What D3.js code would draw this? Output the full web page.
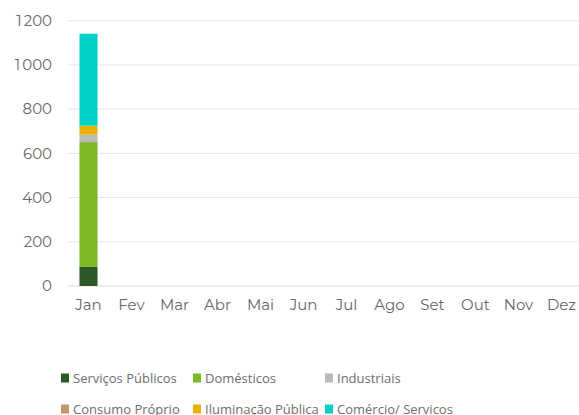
<!DOCTYPE html>
<html><head><meta charset="utf-8">
<script src="https://cdn.jsdelivr.net/npm/d3@7"></script>
<style>body{margin:0;background:#fff;} svg{display:block;}</style>
</head><body>
<svg id="c" width="579" height="415"></svg>
<script>
const months = ["Jan","Fev","Mar","Abr","Mai","Jun","Jul","Ago","Set","Out","Nov","Dez"];
const seriesNames = ["Serviços Públicos","Domésticos","Industriais","Consumo Próprio","Iluminação Pública","Comércio/ Servicos"];
const seriesColors = ["#2c5726","#7db827","#bababa","#c4976c","#e9b100","#00d3c6"];
const servicosPublicos = [86,null,null,null,null,null,null,null,null,null,null,null];
const domesticos       = [565,null,null,null,null,null,null,null,null,null,null,null];
const industriais      = [33,null,null,null,null,null,null,null,null,null,null,null];
const consumoProprio   = [1,null,null,null,null,null,null,null,null,null,null,null];
const iluminacao       = [40,null,null,null,null,null,null,null,null,null,null,null];
const comercio         = [416,null,null,null,null,null,null,null,null,null,null,null];
const yTicks = [0,200,400,600,800,1000,1200];
const yTickLabels = ["0","200","400","600","800","1 000","1 200"];

const seriesValues = [servicosPublicos,domesticos,industriais,consumoProprio,iluminacao,comercio];
const table = months.map((m,i)=>{const o={month:m}; seriesNames.forEach((s,j)=>o[s]=seriesValues[j][i]||0); return o;});
const stack = d3.stack().keys(seriesNames)(table);

const svg = d3.select("#c");
const font = "Montserrat, Lato, 'Open Sans', sans-serif";
const lfont = "'Open Sans', 'Noto Sans', sans-serif";
const x = d3.scaleBand().domain(months).range([67,583]).paddingInner(0.58).paddingOuter(0.29);
const y = d3.scaleLinear().domain([0,1200]).range([286,20.7]);

// grid
svg.append("g").selectAll("line").data(yTicks).join("line")
  .attr("x1",68).attr("x2",579).attr("y1",d=>y(d)).attr("y2",d=>y(d))
  .attr("stroke",d=>d===0?"#d9d9d9":"#e6e6e6").attr("stroke-width",1);

// y labels (thousands separated by a narrow gap)
const yl = svg.append("g").selectAll("text").data(yTicks).join("text")
  .attr("x",52).attr("y",d=>y(d)).attr("dy","0.35em").attr("text-anchor","end")
  .attr("font-family",font).attr("font-size",15).attr("fill","#666");
yl.each(function(d,i){
  const parts = yTickLabels[i].split(" ");
  const t = d3.select(this);
  parts.forEach((p,k)=>{ t.append("tspan").attr("dx",k>0?2:null).text(p); });
});

// bars
svg.append("g").selectAll("g").data(stack).join("g").attr("fill",(d,i)=>seriesColors[i])
  .selectAll("rect").data(d=>d).join("rect")
  .attr("x",d=>x(d.data.month)).attr("width",x.bandwidth())
  .attr("y",d=>y(d[1])).attr("height",d=>Math.max(0,y(d[0])-y(d[1])));

// x labels
svg.append("g").selectAll("text").data(months).join("text")
  .attr("x",d=>x(d)+x.bandwidth()/2).attr("y",305).attr("dy","0.35em").attr("text-anchor","middle")
  .attr("font-family",font).attr("font-size",15).attr("fill","#666").text(d=>d);

// legend
const cols=[61,193,325], rows=[378,409];
const lg = svg.append("g").selectAll("g").data(seriesNames).join("g")
  .attr("transform",(d,i)=>`translate(${cols[i%3]},${rows[Math.floor(i/3)]})`);
lg.append("rect").attr("x",0).attr("y",-4.5).attr("width",8).attr("height",9).attr("fill",(d,i)=>seriesColors[i]);
lg.append("text").attr("x",12).attr("y",0).attr("dy","0.35em")
  .attr("font-family",lfont).attr("font-size",13).attr("fill","#6e6e6e").text(d=>d);
</script>
</body></html>
